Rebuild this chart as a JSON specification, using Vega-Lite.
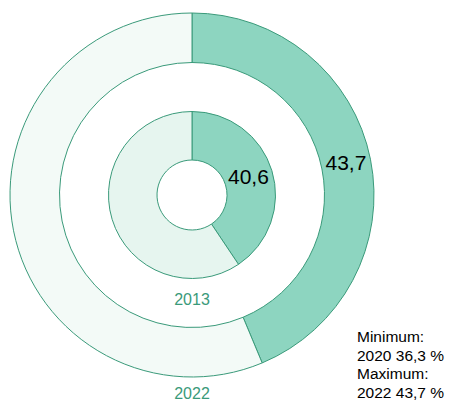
{
  "$schema": "https://vega.github.io/schema/vega-lite/v6.json",
  "width": 384,
  "height": 390,
  "autosize": {"type": "none"},
  "padding": {"left": 0, "top": 0, "right": 66, "bottom": 11},
  "background": "white",
  "config": {
    "view": {"stroke": null},
    "font": "Liberation Sans",
    "locale": {"number": {"decimal": ",", "thousands": ".", "grouping": [3], "currency": ["", " €"]}}
  },
  "title": {
    "text": ["Minimum:", "2020 36,3 %", "Maximum:", "2022 43,7 %"],
    "orient": "bottom",
    "anchor": "end",
    "frame": "group",
    "align": "left",
    "dx": -27,
    "offset": -72,
    "fontSize": 15.5,
    "fontWeight": "normal",
    "font": "Liberation Sans",
    "color": "#000000",
    "lineHeight": 18.5
  },
  "data": {
    "values": [
      {"ring": "2022", "part": "Anteil 2022", "value": 43.7, "idx": 1},
      {"ring": "2022", "part": "Rest 2022", "value": 56.3, "idx": 2},
      {"ring": "2013", "part": "Anteil 2013", "value": 40.6, "idx": 1},
      {"ring": "2013", "part": "Rest 2013", "value": 59.4, "idx": 2}
    ]
  },
  "encoding": {
    "theta": {"field": "value", "type": "quantitative", "stack": true, "scale": {"domain": [0, 100]}},
    "order": {"field": "idx", "type": "quantitative"}
  },
  "layer": [
    {
      "transform": [{"filter": "datum.ring === '2022'"}],
      "mark": {"type": "arc", "radius": 182, "radius2": 132.5, "stroke": "#3a9a7a", "strokeWidth": 1},
      "encoding": {
        "color": {
          "field": "part", "type": "nominal", "legend": null,
          "scale": {"domain": ["Anteil 2022", "Rest 2022", "Anteil 2013", "Rest 2013"], "range": ["#8dd5c0", "#f3faf7", "#8dd5c0", "#e6f5ef"]}
        }
      }
    },
    {
      "transform": [{"filter": "datum.ring === '2013'"}],
      "mark": {"type": "arc", "radius": 83.5, "radius2": 35, "stroke": "#3a9a7a", "strokeWidth": 1},
      "encoding": {
        "color": {"field": "part", "type": "nominal", "legend": null}
      }
    },
    {
      "transform": [{"filter": "datum.ring === '2022' && datum.idx === 1"}],
      "mark": {"type": "text", "radius": 157, "fontSize": 21, "color": "#000000", "align": "center", "baseline": "middle"},
      "encoding": {
        "text": {"field": "value", "type": "quantitative", "format": ".1f"}
      }
    },
    {
      "transform": [{"filter": "datum.ring === '2013' && datum.idx === 1"}],
      "mark": {"type": "text", "radius": 59, "fontSize": 21, "color": "#000000", "align": "center", "baseline": "middle"},
      "encoding": {
        "text": {"field": "value", "type": "quantitative", "format": ".1f"}
      }
    },
    {
      "transform": [{"filter": "datum.idx === 1"}],
      "mark": {"type": "text", "fontSize": 16, "color": "#3a9a7a", "align": "center", "baseline": "middle"},
      "encoding": {
        "theta": {"value": 3.14159265},
        "order": null,
        "radius": {"field": "ring", "type": "nominal", "scale": {"type": "ordinal", "domain": ["2013", "2022"], "range": [105, 199]}},
        "text": {"field": "ring", "type": "nominal"}
      }
    }
  ]
}
